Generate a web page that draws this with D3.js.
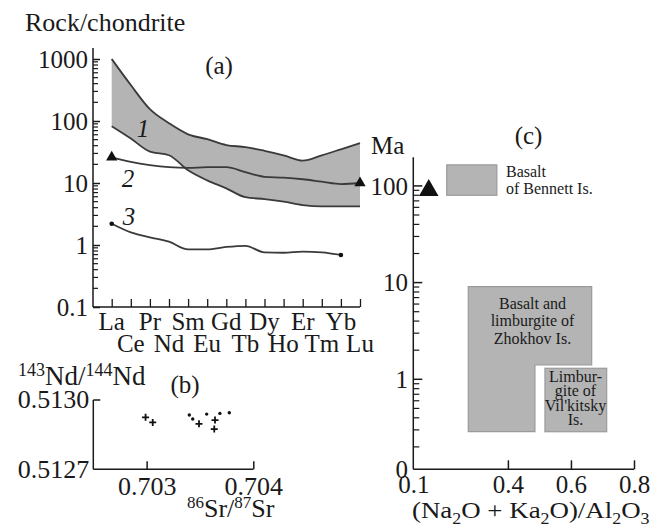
<!DOCTYPE html>
<html><head><meta charset="utf-8">
<script src="https://cdn.jsdelivr.net/npm/d3@7"></script>
<style>
html,body{margin:0;padding:0;background:#fff;}
svg{display:block;}
</style></head>
<body>
<svg id="c" width="651" height="529"></svg>
<script>
// ---------- Panel (a): REE patterns ----------
const elements = ["La","Ce","Pr","Nd","Sm","Eu","Gd","Tb","Dy","Ho","Er","Tm","Yb","Lu"];
const band1Upper = [1000,380,155,92,61,51,41,38,33,28,23,28,35,44];
const band1Lower = [82,52,32,28,16,11,8.2,5.9,5.5,5.0,4.4,4.2,4.2,4.2];
const line2 = [26,22,19.5,18,17.5,18,18,15,12.6,12.2,11.5,10.5,9.6,10];
const line3Elements = ["La","Ce","Pr","Nd","Sm","Eu","Gd","Tb","Dy","Ho","Er","Tm","Yb"];
const line3 = [2.2,1.6,1.33,1.13,0.85,0.85,0.93,0.97,0.76,0.75,0.78,0.76,0.69];
const aTickValues = [0.1,1,10,100,1000];
const aTickLabels = ["0.1","1","10","100","1000"];

// ---------- Panel (b): Nd-Sr isotopes ----------
const bPlusSr = [0.70299,0.703057,0.703491,0.703641,0.703634];
const bPlusNd = [0.512925,0.512903,0.512897,0.512913,0.512874];
const bDotSr = [0.70340,0.703432,0.703563,0.703687,0.703775];
const bDotNd = [0.512935,0.512918,0.512939,0.512942,0.512945];
const bXTicks = [0.703,0.704];
const bXTickLabels = ["0.703","0.704"];
const bYTicks = [0.5127,0.5130];
const bYTickLabels = ["0.5127","0.5130"];

// ---------- Panel (c): age vs alkalinity ----------
const cXTicks = [0.1,0.4,0.6,0.8];
const cXTickLabels = ["0.1","0.4","0.6","0.8"];
const cYTickLabels = ["0","1","10","100"];
const cYTickValues = [1,10,100];
const bennettBox = {x:[0.206,0.365], y:[80,165]};
const bennettPoint = {x:0.149, y:90};
const zhokhovPoly = [[0.2744,9.07],[0.6658,9.07],[0.6658,1.405],[0.4858,1.405],[0.4858,0.287],[0.2744,0.287]];
const vilkitskyBox = {x:[0.5176,0.7133], y:[0.287,1.30]};
const zhokhovLabel = ["Basalt and","limburgite of","Zhokhov Is."];
const vilkitskyLabel = ["Limbur-","gite of","Vil'kitsky","Is."];
const bennettLabel = ["Basalt","of Bennett Is."];

const svg = d3.select("#c");
const INK = "#1a1a1a", LINE = "#3a3a3a", FILL = "#b4b4b4";
const FS = 25;

function minorLog(lo, hi){ const out=[]; for(let d=lo; d<hi; d*=10){ for(let k=2;k<=9;k++) out.push(d*k);} return out; }

// ===== Panel A =====
const xA = d3.scalePoint().domain(elements).range([111.7,360]);
const yA = d3.scaleLog().domain([0.1,1000]).range([307,59]);
const gA = svg.append("g");

const bandData = elements.map((e,i)=>({e, hi:band1Upper[i], lo:band1Lower[i]}));
const curve = d3.curveMonotoneX;
gA.append("path").datum(bandData)
  .attr("d", d3.area().x(d=>xA(d.e)).y0(d=>yA(d.lo)).y1(d=>yA(d.hi)).curve(curve))
  .attr("fill", FILL);
gA.append("path").datum(bandData)
  .attr("d", d3.line().x(d=>xA(d.e)).y(d=>yA(d.hi)).curve(curve))
  .attr("fill","none").attr("stroke",LINE).attr("stroke-width",1.8);
gA.append("path").datum(bandData)
  .attr("d", d3.line().x(d=>xA(d.e)).y(d=>yA(d.lo)).curve(curve))
  .attr("fill","none").attr("stroke",LINE).attr("stroke-width",1.8);
const l2 = elements.map((e,i)=>({e, v:line2[i]}));
gA.append("path").datum(l2)
  .attr("d", d3.line().x(d=>xA(d.e)).y(d=>yA(d.v)).curve(curve))
  .attr("fill","none").attr("stroke",LINE).attr("stroke-width",1.8);
gA.selectAll(".tri2").data([l2[0], l2[l2.length-1]]).join("path")
  .attr("transform", d=>`translate(${xA(d.e)},${yA(d.v)})`)
  .attr("d", d3.symbol(d3.symbolTriangle, 55)).attr("fill","#111");
const l3 = line3Elements.map((e,i)=>({e, v:line3[i]}));
gA.append("path").datum(l3)
  .attr("d", d3.line().x(d=>xA(d.e)).y(d=>yA(d.v)).curve(curve))
  .attr("fill","none").attr("stroke",LINE).attr("stroke-width",1.8);
gA.selectAll(".dot3").data([l3[0], l3[l3.length-1]]).join("circle")
  .attr("cx", d=>xA(d.e)).attr("cy", d=>yA(d.v)).attr("r",2.3).attr("fill","#111");

const axALeft = gA.append("g").attr("transform","translate(93,0)");
axALeft.append("line").attr("x1",0).attr("x2",0).attr("y1",yA(0.1)).attr("y2",48).attr("stroke",INK).attr("stroke-width",1.5);
axALeft.selectAll(".mn").data(minorLog(0.1,1000)).join("line")
  .attr("x1",0).attr("x2",5).attr("y1",d=>yA(d)).attr("y2",d=>yA(d)).attr("stroke",INK).attr("stroke-width",1.2);
axALeft.append("g").call(d3.axisLeft(yA).tickValues(aTickValues).tickSize(-7).tickFormat((d,i)=>aTickLabels[i]))
  .call(g=>g.select(".domain").remove())
  .call(g=>g.selectAll(".tick line").attr("stroke",INK).attr("stroke-width",1.5))
  .call(g=>g.selectAll(".tick text").attr("font-size",FS).attr("fill",INK).attr("dy","0.35em").attr("x",-5));
const axABottom = gA.append("g").attr("transform",`translate(0,${yA(0.1)})`);
axABottom.append("line").attr("x1",93).attr("x2",360).attr("y1",0).attr("y2",0).attr("stroke",INK).attr("stroke-width",1.5);
axABottom.append("g").call(d3.axisBottom(xA).tickSize(-8).tickFormat(""))
  .call(g=>g.select(".domain").remove())
  .call(g=>g.selectAll(".tick line").attr("stroke",INK).attr("stroke-width",1.3));
gA.selectAll(".xl").data(elements).join("text")
  .attr("x", d=>xA(d)).attr("y", (d,i)=> i%2===0 ? 329.5 : 352)
  .attr("text-anchor","middle").attr("font-size",FS).attr("fill",INK).text(d=>d);
gA.append("text").attr("x",25).attr("y",31).attr("font-size",26).attr("fill",INK).text("Rock/chondrite");
gA.append("text").attr("x",219).attr("y",74).attr("text-anchor","middle").attr("font-size",FS).attr("fill",INK).text("(a)");
[["1",143,136.5],["2",128,187],["3",129,225]].forEach(([t,x,y])=>{
  gA.append("text").attr("x",x).attr("y",y).attr("text-anchor","middle").attr("font-size",FS).attr("font-style","italic").attr("fill",INK).text(t);
});

// ===== Panel B =====
const xB = d3.scaleLinear().domain([0.7025,0.704]).range([93.3,253.3]);
const yB = d3.scaleLinear().domain([0.5127,0.5130]).range([469.3,400]);
const gB = svg.append("g");
gB.append("line").attr("x1",xB(0.7025)).attr("x2",xB(0.7025)).attr("y1",yB(0.5127)).attr("y2",yB(0.5130)).attr("stroke",INK).attr("stroke-width",1.5);
gB.append("line").attr("x1",xB(0.7025)).attr("x2",xB(0.704)).attr("y1",yB(0.5127)).attr("y2",yB(0.5127)).attr("stroke",INK).attr("stroke-width",1.5);
gB.append("g").attr("transform",`translate(0,${yB(0.5127)})`)
  .call(d3.axisBottom(xB).tickValues(bXTicks).tickSize(-8).tickPadding(7).tickFormat((d,i)=>bXTickLabels[i]))
  .call(g=>g.select(".domain").remove())
  .call(g=>g.selectAll(".tick line").attr("stroke",INK).attr("stroke-width",1.5))
  .call(g=>g.selectAll(".tick text").attr("font-size",FS+1).attr("fill",INK));
gB.append("g").attr("transform",`translate(${xB(0.7025)},0)`)
  .call(d3.axisLeft(yB).tickValues(bYTicks).tickSize(0).tickPadding(4).tickFormat((d,i)=>bYTickLabels[i]))
  .call(g=>g.select(".domain").remove())
  .call(g=>g.selectAll(".tick text").attr("font-size",FS+1).attr("fill",INK).attr("dy","0.3em"));
gB.append("line").attr("x1",xB(0.7025)).attr("x2",xB(0.7025)+7).attr("y1",yB(0.5130)).attr("y2",yB(0.5130)).attr("stroke",INK).attr("stroke-width",1.5);
const plusPts = bPlusSr.map((s,i)=>({s, n:bPlusNd[i]}));
const dotPts = bDotSr.map((s,i)=>({s, n:bDotNd[i]}));
gB.selectAll(".pl").data(plusPts).join("path")
  .attr("transform", d=>`translate(${xB(d.s)},${yB(d.n)})`)
  .attr("d","M-3.5,0H3.5M0,-3.5V3.5").attr("stroke","#111").attr("stroke-width",1.8);
gB.selectAll(".dt").data(dotPts).join("circle")
  .attr("cx", d=>xB(d.s)).attr("cy", d=>yB(d.n)).attr("r",1.7).attr("fill","#111");
const tNd = gB.append("text").attr("x",18).attr("y",385).attr("font-size",27).attr("fill",INK);
tNd.append("tspan").attr("font-size",18).attr("dy",-9).text("143");
tNd.append("tspan").attr("dy",9).text("Nd/");
tNd.append("tspan").attr("font-size",18).attr("dy",-9).text("144");
tNd.append("tspan").attr("dy",9).text("Nd");
gB.append("text").attr("x",185).attr("y",393).attr("text-anchor","middle").attr("font-size",FS).attr("fill",INK).text("(b)");
const tSr = gB.append("text").attr("x",187).attr("y",516.5).attr("font-size",26).attr("fill",INK);
tSr.append("tspan").attr("font-size",17).attr("dy",-9).text("86");
tSr.append("tspan").attr("dy",9).text("Sr/");
tSr.append("tspan").attr("font-size",17).attr("dy",-9).text("87");
tSr.append("tspan").attr("dy",9).text("Sr");

// ===== Panel C =====
const xC = d3.scaleLinear().domain([0.1,0.8]).range([413.3,634]);
const yC = d3.scaleLog().domain([1,100]).range([379.3,185.9]);
const yC0 = 469.3; // broken-axis origin labelled "0"
const gC = svg.append("g");
gC.append("rect").attr("x",xC(bennettBox.x[0])).attr("y",yC(bennettBox.y[1]))
  .attr("width",xC(bennettBox.x[1])-xC(bennettBox.x[0])).attr("height",yC(bennettBox.y[0])-yC(bennettBox.y[1]))
  .attr("fill",FILL).attr("stroke","#9a9a9a").attr("stroke-width",1.2);
gC.append("path").attr("d", d3.line()(zhokhovPoly.map(p=>[xC(p[0]),yC(p[1])]))+"Z")
  .attr("fill",FILL).attr("stroke","#9a9a9a").attr("stroke-width",1.2);
gC.append("rect").attr("x",xC(vilkitskyBox.x[0])).attr("y",yC(vilkitskyBox.y[1]))
  .attr("width",xC(vilkitskyBox.x[1])-xC(vilkitskyBox.x[0])).attr("height",yC(vilkitskyBox.y[0])-yC(vilkitskyBox.y[1]))
  .attr("fill",FILL).attr("stroke","#9a9a9a").attr("stroke-width",1.2);
gC.append("path").attr("transform",`translate(${xC(bennettPoint.x)},${yC(bennettPoint.y)})`)
  .attr("d", d3.symbol(d3.symbolTriangle,165)).attr("fill","#111");
bennettLabel.forEach((t,i)=>gC.append("text").attr("x",506).attr("y",176.5+i*17).attr("font-size",16).attr("fill",INK).text(t));
zhokhovLabel.forEach((t,i)=>gC.append("text").attr("x",532.5).attr("y",308.5+i*17.8).attr("text-anchor","middle").attr("font-size",16).attr("fill",INK).text(t));
vilkitskyLabel.forEach((t,i)=>gC.append("text").attr("x",575.5).attr("y",381.5+i*14.6).attr("text-anchor","middle").attr("font-size",16).attr("fill",INK).text(t));
gC.append("line").attr("x1",xC(0.1)).attr("x2",xC(0.1)).attr("y1",yC0).attr("y2",157.3).attr("stroke",INK).attr("stroke-width",1.5);
gC.append("line").attr("x1",xC(0.1)).attr("x2",xC(0.8)).attr("y1",yC0).attr("y2",yC0).attr("stroke",INK).attr("stroke-width",1.5);
gC.selectAll(".cmn").data(minorLog(0.1,100).filter(v=>yC(v)<yC0-4)).join("line")
  .attr("x1",xC(0.1)).attr("x2",xC(0.1)+6).attr("y1",d=>yC(d)).attr("y2",d=>yC(d)).attr("stroke",INK).attr("stroke-width",1.2);
gC.selectAll(".cmj").data(cYTickValues).join("line")
  .attr("x1",xC(0.1)).attr("x2",xC(0.1)+9).attr("y1",d=>yC(d)).attr("y2",d=>yC(d)).attr("stroke",INK).attr("stroke-width",1.5);
const cYPos = [yC0].concat(cYTickValues.map(v=>yC(v)));
gC.selectAll(".cyl").data(cYTickLabels).join("text")
  .attr("x",408).attr("y",(d,i)=>cYPos[i]).attr("dy","0.35em").attr("text-anchor","end")
  .attr("font-size",FS).attr("fill",INK).text(d=>d);
const cxAxis = gC.append("g").attr("transform",`translate(0,${yC0})`)
  .call(d3.axisBottom(xC).tickValues(cXTicks).tickSize(-9).tickPadding(6).tickFormat((d,i)=>cXTickLabels[i]))
  .call(g=>g.select(".domain").remove())
  .call(g=>g.selectAll(".tick line").attr("stroke",INK).attr("stroke-width",1.5))
  .call(g=>g.selectAll(".tick text").attr("font-size",FS).attr("fill",INK));
cxAxis.select(".tick line").remove();
gC.append("text").attr("x",371).attr("y",153.5).attr("font-size",FS).attr("fill",INK).text("Ma");
gC.append("text").attr("x",528.5).attr("y",144).attr("text-anchor","middle").attr("font-size",FS).attr("fill",INK).text("(c)");
const tX = gC.append("text").attr("transform","translate(412,518) scale(1.12,1)").attr("font-size",24).attr("fill",INK);
[["(Na",0],["2",1],["O + Ka",0],["2",1],["O)/Al",0],["2",1],["O",0],["3",1]].forEach(([t,s],i,arr)=>{
  const prev = i>0 ? arr[i-1][1] : 0;
  const dy = s && !prev ? 6 : (!s && prev ? -6 : 0);
  tX.append("tspan").attr("font-size", s?16:24).attr("dy",dy).text(t);
});

// serif font for every text
svg.selectAll("g").attr("font-family",null);
svg.selectAll("text").style("font-family","'Liberation Serif', 'Times New Roman', serif");
</script>
</body></html>
